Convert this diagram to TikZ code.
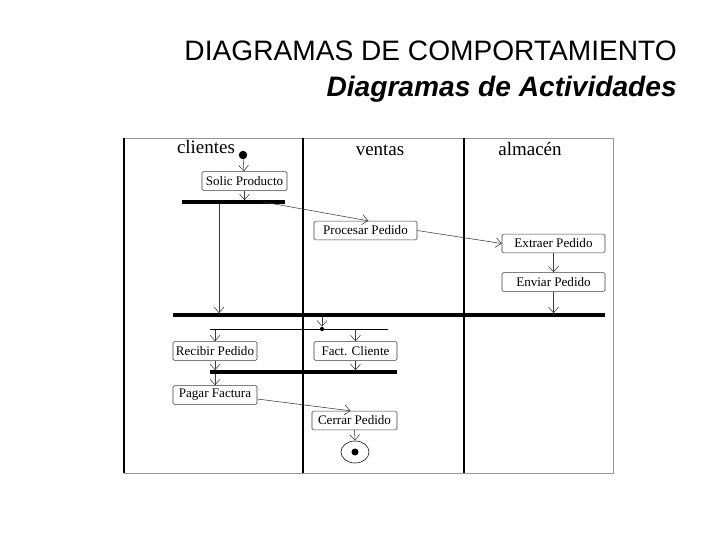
\documentclass[tikz,border=0pt]{standalone}
\usepackage{fontspec}
\setmainfont{Liberation Serif}
\newfontfamily\titlefont{Liberation Sans}
\usepackage{tikz}
\usetikzlibrary{arrows.meta,shapes.geometric}
\definecolor{cLinea}{RGB}{60,60,60}
\definecolor{cMarco}{RGB}{150,150,150}

\tikzset{
  act/.style={draw=cLinea,rounded corners=1pt,minimum width=#1,minimum height=0.47cm,inner sep=1pt,
    font=\fontsize{9.3}{10}\selectfont},
  barra/.style={fill=black,inner sep=0pt,minimum height=2.2pt,minimum width=#1},
  flujo/.style={draw=cLinea,-{Straight Barb[length=4pt,width=7pt]}},
  carril/.style={font=\fontsize{13.5}{14}\selectfont,anchor=base}
}

\begin{document}
\begin{tikzpicture}[x=0.025cm,y=-0.025cm]
\useasboundingbox (0,0) rectangle (720,540);
% titulo
\node[anchor=base east,inner sep=0pt,font=\titlefont\fontsize{20}{22}\selectfont] (titulo) at (677,60) {DIAGRAMAS DE COMPORTAMIENTO};
\node[anchor=base east,inner sep=0pt,font=\titlefont\fontsize{20}{22}\selectfont\bfseries\itshape] (subtitulo) at (677,96) {Diagramas de Actividades};
% carriles
\draw[cMarco] (124,138)--(613,138)--(613,473)--(124,473);
\draw[line width=1pt] (124,138)--(124,473);
\draw[line width=1.3pt] (303,138)--(303,473);
\draw[line width=0.8pt] (464,138)--(464,473);
\node[carril] (clientes) at (206,153) {clientes};
\node[carril] (ventas) at (380,155) {ventas};
\node[carril] (almacen) at (530,155) {almacén};
% actividades
\node[circle,fill=black,inner sep=0pt,minimum size=6pt] (inicio) at (243,155) {};
\node[act=2.125cm] (solic) at (244.5,181) {Solic Producto};
\node[barra=2.575cm] (fork1) at (233.5,202) {};
\node[act=2.575cm] (procesar) at (365.5,230.5) {Procesar Pedido};
\node[act=2.575cm] (extraer) at (553.5,243.5) {Extraer Pedido};
\node[act=2.575cm] (enviar) at (553.5,282) {Enviar Pedido};
\node[barra=10.8cm] (join) at (389,315) {};
\node[barra=4.45cm,minimum height=0.6pt] (fork2) at (299,329) {};
\node[circle,fill=black,inner sep=0pt,minimum size=3pt] (punto) at (322,329) {};
\node[act=2.1cm] (recibir) at (215,351) {Recibir Pedido};
\node[act=2.075cm] (fact) at (355.5,351) {Fact. Cliente};
\node[barra=4.675cm] (bar3) at (303.5,372) {};
\node[act=2.1cm] (pagar) at (215,395) {Pagar Factura};
\node[act=2.125cm] (cerrar) at (354.5,420.5) {Cerrar Pedido};
\node[ellipse,draw=black,minimum width=0.7cm,minimum height=0.55cm,inner sep=0pt] (fin) at (355,452) {};
\node[circle,fill=black,inner sep=0pt,minimum size=5pt] (finpunto) at (fin) {};
% flujos
\draw[flujo] (inicio)--(solic);
\draw[flujo] (solic.south)--(solic.south |- fork1.north);
\draw[flujo] ([xshift=0.1cm]recibir.north |- fork1.south)--([xshift=0.1cm]recibir.north |- join.north);
\draw[flujo] ([xshift=-0.55cm]fork1.east)--([xshift=0.07cm]procesar.north);
\draw[flujo] (procesar.east)--(extraer.west);
\draw[flujo] (extraer)--(enviar);
\draw[flujo] (enviar.south)--(enviar.south |- join.north);
\draw[flujo] (punto |- join.south)--(punto);
\draw[flujo] (recibir |- fork2.south)--(recibir.north);
\draw[flujo] (fact |- fork2.south)--(fact.north);
\draw[flujo] (recibir.south)--(recibir.south |- bar3.north);
\draw[flujo] (fact.south)--(fact.south |- bar3.north);
\draw[flujo] (pagar |- bar3.south)--(pagar.north);
\draw[flujo] ([yshift=-0.1cm]pagar.east)--([xshift=-0.1cm]cerrar.north);
\draw[flujo] (cerrar.south)--(fin.north);
\end{tikzpicture}
\end{document}
